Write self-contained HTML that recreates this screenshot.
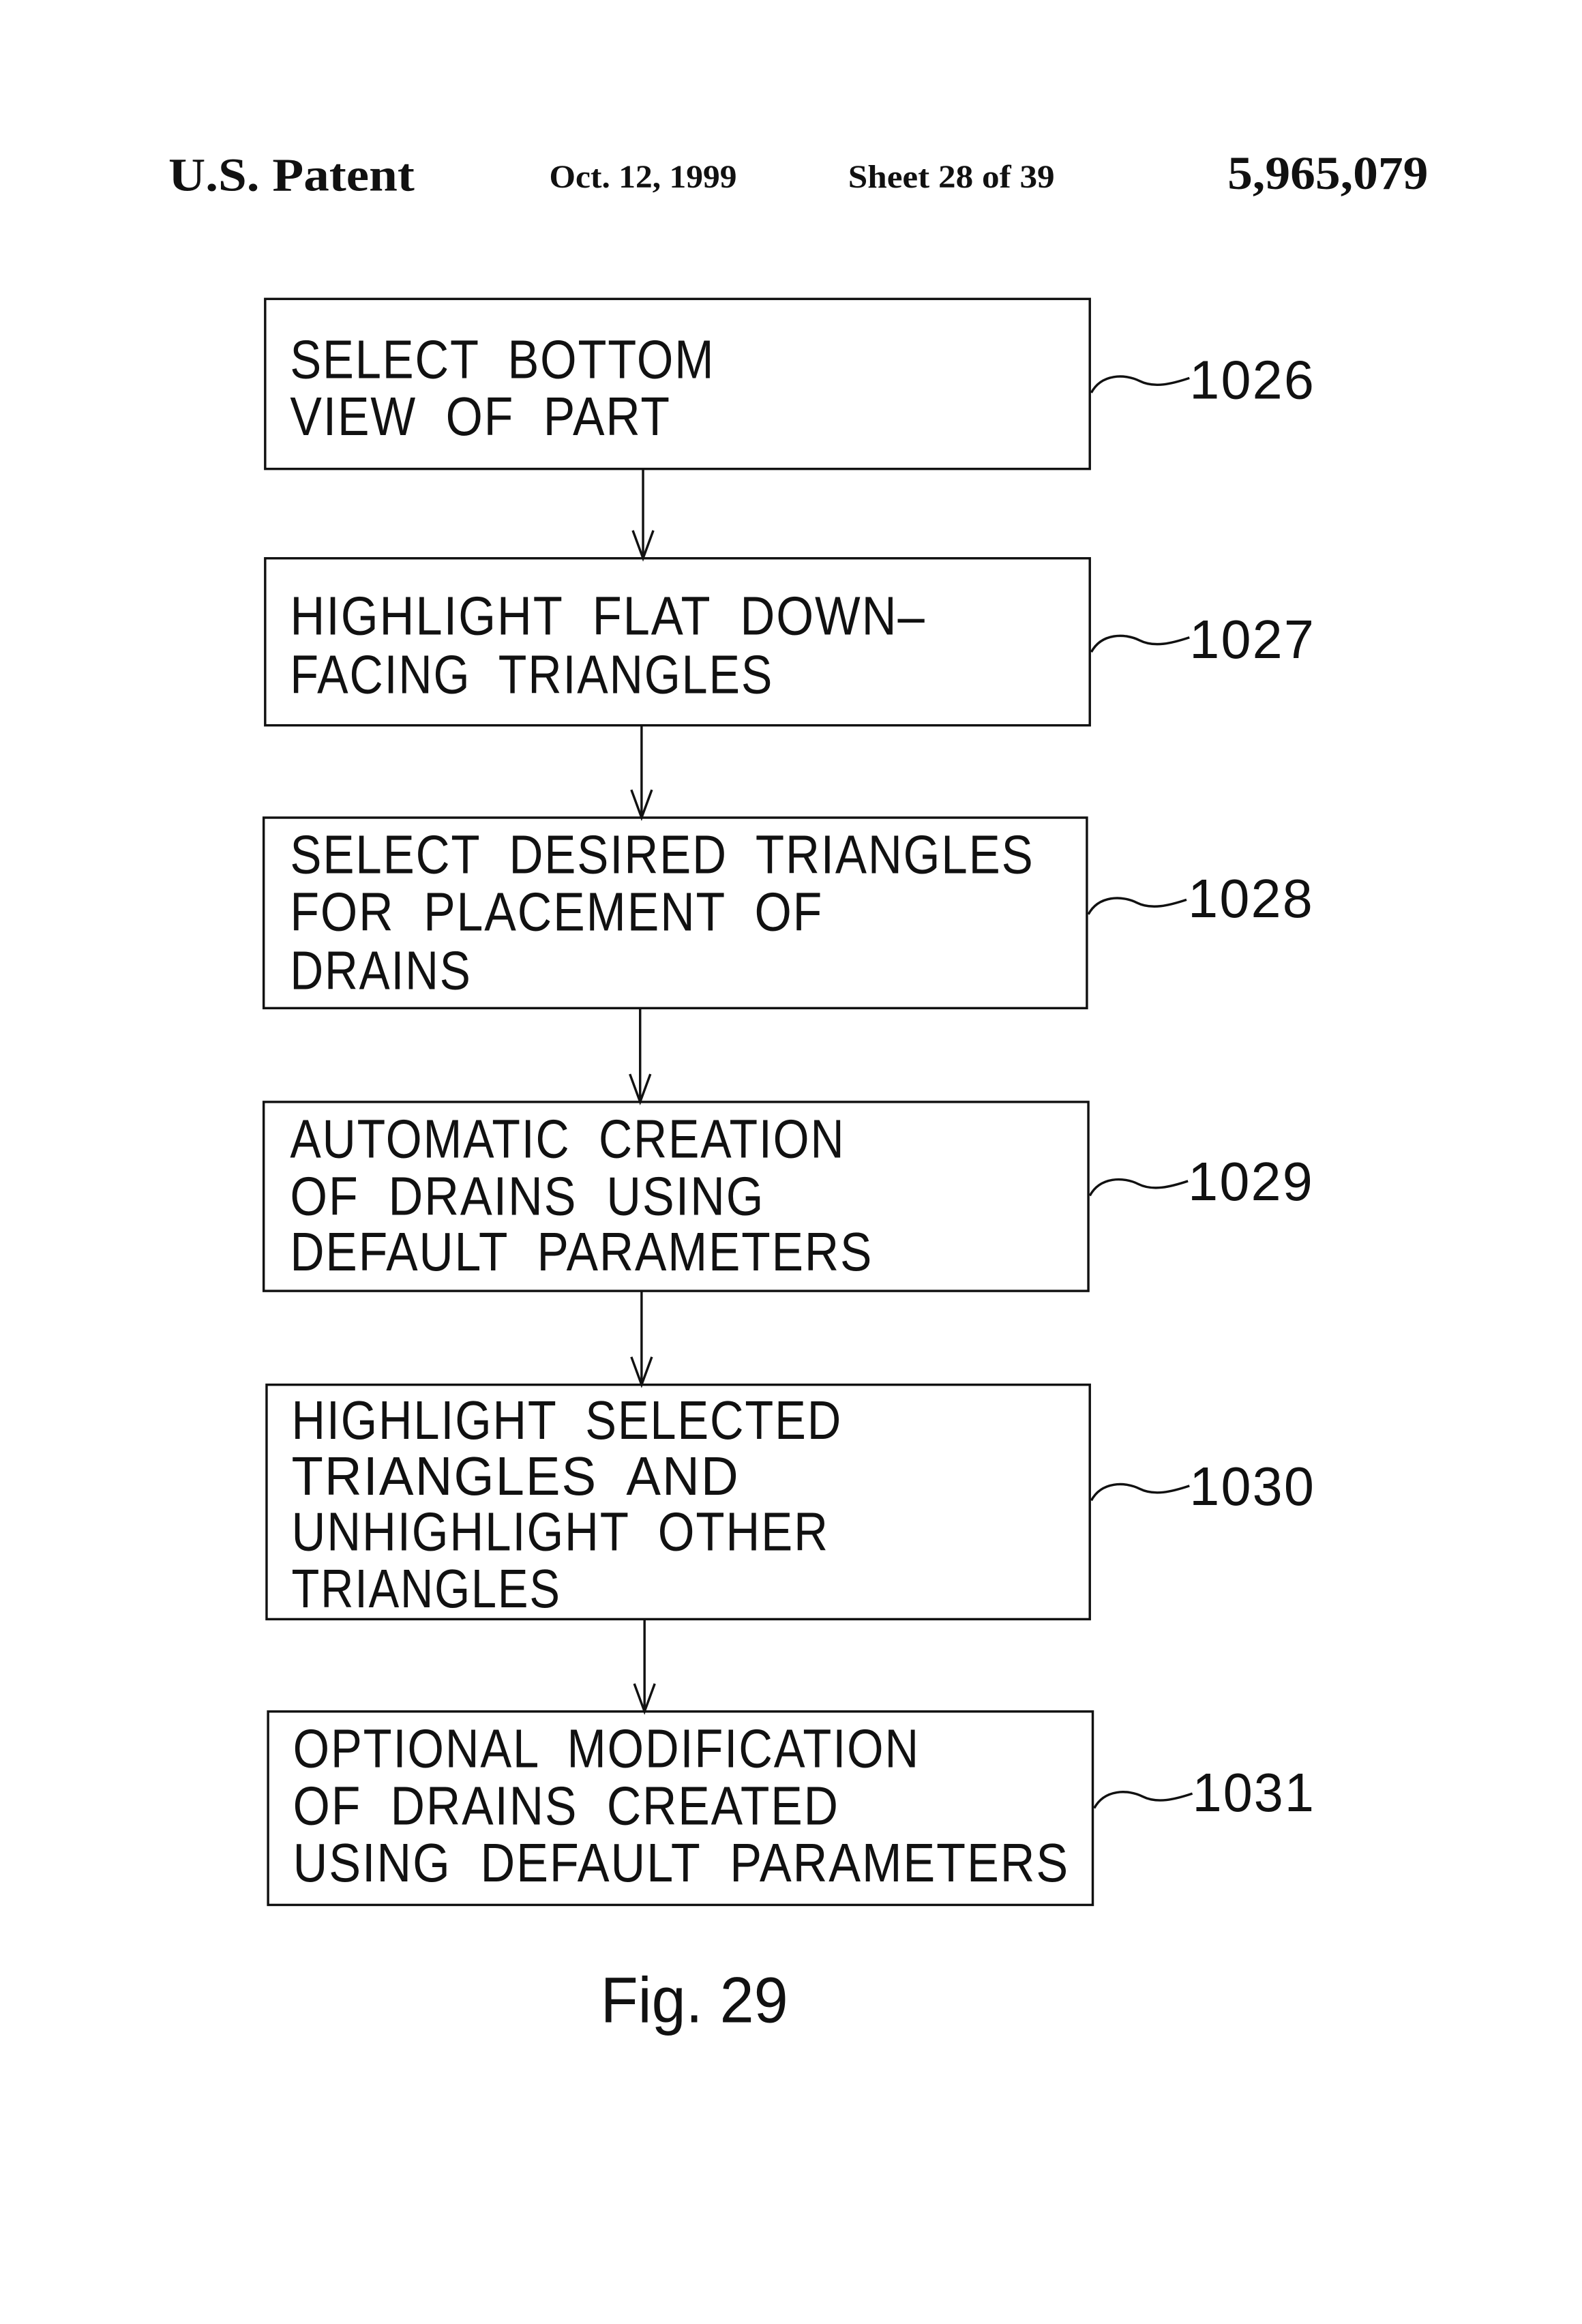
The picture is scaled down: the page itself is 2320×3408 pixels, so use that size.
<!DOCTYPE html>
<html><head><meta charset="utf-8"><style>
html,body{margin:0;padding:0;background:#fff;}
svg{display:block;}
text{white-space:pre;}
.t{font-family:"Liberation Sans",sans-serif;font-size:37px;fill:#111;letter-spacing:1px;}
.h{font-family:"Liberation Serif",serif;font-weight:bold;fill:#111;}
</style></head><body>
<svg width="2320" height="3408" viewBox="0 0 1080 1586" preserveAspectRatio="none" xmlns="http://www.w3.org/2000/svg" xml:space="preserve">
<g class="h">
<text x="115" y="130" font-size="32" textLength="168" lengthAdjust="spacingAndGlyphs">U.S. Patent</text>
<text x="375" y="128" font-size="22" textLength="128" lengthAdjust="spacingAndGlyphs">Oct. 12, 1999</text>
<text x="579" y="128" font-size="22" textLength="141" lengthAdjust="spacingAndGlyphs">Sheet 28 of 39</text>
<text x="838" y="129" font-size="32" textLength="137" lengthAdjust="spacingAndGlyphs">5,965,079</text>
</g>
<g fill="none" stroke="#111" stroke-width="1.6">
<rect x="181" y="204" width="563" height="116"/>
<rect x="181" y="381" width="563" height="114"/>
<rect x="180" y="558" width="562" height="130"/>
<rect x="180" y="752" width="563" height="129"/>
<rect x="182" y="945" width="562" height="160"/>
<rect x="183" y="1168" width="563" height="132"/>
<line x1="439" y1="320" x2="439" y2="381"/><polyline points="432,362 439,381 446,362"/>
<line x1="438" y1="495" x2="438" y2="558"/><polyline points="431,539 438,558 445,539"/>
<line x1="437" y1="688" x2="437" y2="752"/><polyline points="430,733 437,752 444,733"/>
<line x1="438" y1="881" x2="438" y2="945"/><polyline points="431,926 438,945 445,926"/>
<line x1="440" y1="1105" x2="440" y2="1168"/><polyline points="433,1149 440,1168 447,1149"/>
<path d="M745,268 C752,255 768,255 778,260 S800,262 812,258"/>
<path d="M745,445 C752,432 768,432 778,437 S800,439 812,435"/>
<path d="M743,624 C750,611 766,611 776,616 S798,618 810,614"/>
<path d="M744,816 C751,803 767,803 777,808 S799,810 811,806"/>
<path d="M745,1024 C752,1011 768,1011 778,1016 S800,1018 812,1014"/>
<path d="M747,1234 C754,1221 770,1221 780,1226 S802,1228 814,1224"/>
</g>
<g class="t">
<text x="198" y="258" textLength="290" lengthAdjust="spacingAndGlyphs">SELECT  BOTTOM</text>
<text x="198" y="297" textLength="260" lengthAdjust="spacingAndGlyphs">VIEW  OF  PART</text>
<text x="198" y="433" textLength="434" lengthAdjust="spacingAndGlyphs">HIGHLIGHT  FLAT  DOWN–</text>
<text x="198" y="473" textLength="330" lengthAdjust="spacingAndGlyphs">FACING  TRIANGLES</text>
<text x="198" y="596" textLength="508" lengthAdjust="spacingAndGlyphs">SELECT  DESIRED  TRIANGLES</text>
<text x="198" y="635" textLength="364" lengthAdjust="spacingAndGlyphs">FOR  PLACEMENT  OF</text>
<text x="198" y="675" textLength="124" lengthAdjust="spacingAndGlyphs">DRAINS</text>
<text x="198" y="790" textLength="379" lengthAdjust="spacingAndGlyphs">AUTOMATIC  CREATION</text>
<text x="198" y="829" textLength="324" lengthAdjust="spacingAndGlyphs">OF  DRAINS  USING</text>
<text x="198" y="867" textLength="398" lengthAdjust="spacingAndGlyphs">DEFAULT  PARAMETERS</text>
<text x="199" y="982" textLength="376" lengthAdjust="spacingAndGlyphs">HIGHLIGHT  SELECTED</text>
<text x="199" y="1020" textLength="306" lengthAdjust="spacingAndGlyphs">TRIANGLES  AND</text>
<text x="199" y="1058" textLength="367" lengthAdjust="spacingAndGlyphs">UNHIGHLIGHT  OTHER</text>
<text x="199" y="1097" textLength="184" lengthAdjust="spacingAndGlyphs">TRIANGLES</text>
<text x="200" y="1206" textLength="428" lengthAdjust="spacingAndGlyphs">OPTIONAL  MODIFICATION</text>
<text x="200" y="1245" textLength="373" lengthAdjust="spacingAndGlyphs">OF  DRAINS  CREATED</text>
<text x="200" y="1284" textLength="530" lengthAdjust="spacingAndGlyphs">USING  DEFAULT  PARAMETERS</text>
<text x="812" y="272" textLength="86" lengthAdjust="spacingAndGlyphs">1026</text>
<text x="812" y="449" textLength="86" lengthAdjust="spacingAndGlyphs">1027</text>
<text x="811" y="626" textLength="86" lengthAdjust="spacingAndGlyphs">1028</text>
<text x="811" y="819" textLength="86" lengthAdjust="spacingAndGlyphs">1029</text>
<text x="812" y="1027" textLength="86" lengthAdjust="spacingAndGlyphs">1030</text>
<text x="814" y="1236" textLength="84" lengthAdjust="spacingAndGlyphs">1031</text>
<text x="410" y="1380" font-size="44" letter-spacing="0" textLength="128" lengthAdjust="spacingAndGlyphs">Fig. 29</text>
</g>
</svg>
</body></html>
